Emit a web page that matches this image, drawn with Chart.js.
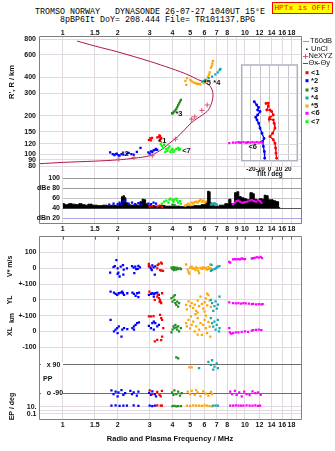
<!DOCTYPE html>
<html>
<head>
<meta charset="utf-8">
<title>Tromso Dynasonde ionogram</title>
<script src="https://cdn.jsdelivr.net/npm/chart.js@4.4.1/dist/chart.umd.min.js"></script>
<style>
  html, body { margin: 0; padding: 0; background: #fff; }
  #page { position: relative; width: 335px; height: 451px; overflow: hidden; background: #fff; }
  canvas { position: absolute; }
  .head { position: absolute; font: 8.33px "Liberation Mono", monospace; line-height: 9px; white-space: pre; color: #000; }
  #hptx { position: absolute; left: 272px; top: 2px; width: 61px; height: 12px; box-sizing: border-box;
          background: #ffff00; border: 1px solid #ff0000; color: #ff0000; text-align: center;
          font: 7.8px "Liberation Mono", monospace; line-height: 10px; white-space: pre; }
</style>
</head>
<body>
<div id="page">
  <div class="head" style="left:35px; top:8px;">TROMSO NORWAY   DYNASONDE 26-07-27 1040UT 15°E</div>
  <div class="head" style="left:60px; top:15.5px;">8pBP6It DoY= 208.444 File= TR101137.BPG</div>
  <div id="hptx">HPTx is OFF!</div>
  <canvas id="insetChart" width="80" height="125" style="left:228px; top:58px; z-index:0"></canvas>
  <canvas id="heightChart" width="335" height="176" style="left:0; top:0; z-index:1"></canvas>
  <canvas id="dbChart" width="335" height="80" style="left:0; top:160px; z-index:2"></canvas>
  <canvas id="lowChart" width="335" height="223" style="left:0; top:228px; z-index:3"></canvas>
</div>
<script>
//Frequency axis (MHz, shared by every panel)
const fGrid = [1, 1.5, 2, 3, 4, 5, 6, 7, 8, 9, 10, 12, 14, 16, 18];
const fLabels = [1, 1.5, 2, 3, 4, 5, 6, 7, 8, 10, 12, 14, 16, 18];
const fLabelsDb = [1, 1.5, 2, 3, 4, 5, 6, 7, 8, 9, 10, 12, 14, 16, 18];

//Height panel (R', R / km)
const hTicks = [80, 90, 100, 120, 150, 200, 300, 400, 600, 800];

const profile = [
    [0.75, 84], [1.0, 86], [1.5, 88], [2.0, 90], [2.5, 93], [3.0, 97], [3.4, 106], [3.7, 116],
    [4.0, 127], [4.25, 136], [4.6, 152], [5.05, 175], [5.45, 190], [5.85, 203], [6.3, 222],
    [6.58, 255], [6.68, 290], [6.6, 320], [6.4, 345], [6.0, 366], [5.5, 385], [5.0, 412],
    [4.42, 443], [3.9, 472], [3.03, 532], [1.99, 636], [1.5, 705], [1.2, 771]
];

const neXYZ = [[2.03, 91], [2.46, 94], [3.1, 97], [4.15, 131], [5.1, 188], [5.3, 196], [5.8, 220], [6.2, 243]];

const c1H = [[2.97, 129], [3.02, 133], [3.09, 134], [3.05, 128], [3.3, 135], [3.37, 136], [3.42, 138], [3.44, 132], [3.41, 128], [3.47, 134], [3.39, 140]];
const c2H = [[1.82, 103], [1.88, 100], [1.92, 98], [1.95, 100], [1.98, 101], [2.02, 98], [2.05, 97], [2.1, 100], [2.15, 99], [2.25, 101], [2.3, 102], [2.38, 100], [2.45, 99], [2.55, 104], [2.67, 112], [2.95, 103], [3.0, 101], [3.05, 105], [3.1, 104], [3.15, 107], [3.2, 108], [3.25, 110], [3.3, 108]];
const c3H = [[3.98, 210], [4.0, 208], [4.05, 212], [4.1, 216], [4.15, 220], [4.2, 226], [4.25, 234], [4.3, 242], [4.35, 250], [4.4, 258], [4.45, 266]];
const c4H = [[5.82, 371], [5.95, 376], [6.06, 382], [6.32, 394], [6.6, 406], [6.88, 423], [7.09, 438], [7.26, 457], [7.33, 466]];
const c5H = [[4.71, 375], [4.76, 349], [4.81, 394], [5.02, 382], [5.1, 372], [5.23, 366], [5.35, 360], [5.46, 355], [5.6, 356], [5.69, 353], [5.94, 360], [6.05, 370], [6.13, 382], [6.27, 406], [6.35, 420], [6.4, 438], [6.5, 477], [6.58, 495], [6.62, 516], [6.67, 538]];
const c6H = [[8.2, 122], [8.6, 123], [8.9, 123], [9.2, 124], [9.35, 123], [9.5, 123], [9.8, 124], [10.1, 123], [10.25, 123], [10.4, 124], [10.7, 123], [11.0, 124], [11.3, 123], [11.6, 124], [11.9, 123], [12.2, 124], [12.5, 123]];
const c7H = [[3.45, 120], [3.5, 116], [3.55, 112], [3.6, 118], [3.65, 104], [3.7, 110], [3.75, 106], [3.8, 112], [3.85, 115], [3.9, 104], [3.95, 108], [4.0, 110], [4.05, 104], [4.1, 107], [4.2, 110], [4.3, 112], [4.35, 108], [4.4, 110]];

const clusterNames = ["<1", "*2", "*3", "*4", "*5", "<6", "<7"];
const clusterColors = ["#ff0000", "#0000ff", "#228b22", "#11aaaa", "#ffa500", "#ff00ff", "#00ff00"];
const tagAt = [[3.33, 126], [2.1, 101], [4.15, 207], [6.7, 362], [5.94, 362], [10.45, 114], [4.52, 105]];

//Tilt inset (deg vs km)
const tiltTicks = [-30, -20, -10, 0, 10, 20, 30];
const thetaX = [[-3.8, 250], [-1.3, 251], [-1.3, 238], [-3.0, 222], [0.5, 222], [2.3, 216], [4.1, 203], [0.5, 195], [-0.2, 188], [4.1, 186], [4.9, 175], [5.9, 160], [3.4, 146], [0.5, 138], [4.1, 130], [5.9, 122], [6.6, 112], [7.0, 102], [7.7, 93]];
const thetaY = [[-16.4, 258], [-13.8, 243], [-11.7, 233], [-12.8, 222], [-10.2, 216], [-12.8, 203], [-14.9, 195], [-13.5, 186], [-11.7, 175], [-10.2, 160], [-8.1, 146], [-5.9, 133], [-7.4, 126], [-6.6, 115], [-5.6, 105], [-5.2, 93]];

//Amplitude panel (dB)
const dbTicks = [100, 80, 60, 40, 20];
const dbTickLabels = ["100", "dBe 80", "60", "40", "dBn 20"];
const t60 = [
    [1.0, 48], [1.05, 46], [1.1, 48], [1.15, 47], [1.2, 46], [1.25, 48], [1.3, 46], [1.35, 45], [1.4, 47], [1.5, 45],
    [1.6, 44], [1.7, 45], [1.8, 44], [1.9, 45], [2.0, 44], [2.08, 48], [2.12, 62], [2.16, 64], [2.2, 60], [2.24, 50],
    [2.3, 46], [2.4, 45], [2.5, 46], [2.6, 45], [2.7, 52], [2.75, 57], [2.82, 56], [2.88, 48], [2.95, 45], [3.1, 44],
    [3.3, 43], [3.5, 44], [3.8, 43], [4.2, 43], [4.6, 42], [5.0, 43], [5.5, 44], [6.0, 46], [6.2, 52], [6.28, 73],
    [6.4, 72], [6.48, 50], [6.6, 44], [7.0, 43], [7.5, 45], [8.0, 48], [8.3, 57], [8.45, 48], [8.6, 46], [8.95, 70],
    [9.1, 72], [9.4, 62], [9.7, 60], [10.0, 58], [10.4, 56], [10.9, 70], [11.1, 68], [11.4, 57], [11.8, 56], [12.2, 58],
    [12.6, 57], [12.9, 65], [13.2, 64], [13.6, 56], [14.0, 56], [14.5, 54], [15.0, 52], [15.6, 40]
];
const c1Db = [[3.0, 42], [3.1, 43], [3.3, 42], [3.4, 44], [3.5, 41]];
const c2Db = [[1.8, 46], [1.9, 48], [2.0, 47], [2.05, 50], [2.1, 46], [2.15, 52], [2.2, 54], [2.3, 48], [2.4, 50], [2.5, 47], [2.6, 49], [2.7, 46], [2.95, 48], [3.05, 47], [3.15, 50], [3.25, 48]];
const c3Db = [[4.0, 46], [4.1, 45]];
const c4Db = [[6.5, 46], [6.6, 48], [6.7, 47], [6.8, 49], [6.9, 47], [7.0, 46]];
const c5Db = [[4.7, 44], [4.8, 46], [4.9, 48], [5.0, 45], [5.1, 50], [5.2, 48], [5.3, 51], [5.4, 52], [5.5, 50], [5.6, 53], [5.7, 56], [5.8, 52], [5.9, 54], [6.0, 50], [6.1, 52]];
const c6Db = [[8.6, 47], [8.8, 50], [9.0, 53], [9.2, 54], [9.4, 52], [9.6, 50], [9.8, 50], [10.0, 51], [10.3, 52], [10.6, 54], [10.9, 55], [11.2, 53], [11.5, 52], [11.8, 55], [12.1, 53], [12.3, 50]];
const c7Db = [[3.5, 48], [3.6, 52], [3.7, 54], [3.8, 50], [3.85, 56], [3.9, 58], [4.0, 55], [4.05, 52], [4.1, 56], [4.2, 58], [4.25, 54], [4.3, 50], [4.4, 53], [4.45, 48]];

//Lower panel: V* (m/s), YL / XL (km), PP (deg), EP (deg)
const c1V = [[2.97, 28], [2.99, 12], [3.3, 0], [3.32, 20], [3.36, 28], [3.42, -12], [3.46, 36], [3.5, 30], [3.47, -14], [3.55, -16]];
const c1YL = [[2.99, 53], [3.2, 0], [3.3, 21], [3.33, 32], [3.37, 11], [3.42, 0], [3.4, -11], [3.45, -14], [3.47, -21], [3.51, 42]];
const c1XL = [[2.97, 95], [3.05, 95], [3.15, 97], [3.42, 105], [3.47, 84], [3.51, 74], [3.56, 21], [3.51, -32], [3.3, -53], [3.47, -55], [3.2, -63]];
const c1PP = [[3.0, -72], [3.1, -95], [3.3, -82], [3.4, -100], [3.5, -75], [3.45, -110]];
const c1EP = [[3.3, 22], [3.45, 18], [3.5, 20]];

const c2V = [[1.82, -28], [1.9, 8], [1.93, 14], [1.97, 52], [2.0, 0], [2.02, -28], [2.0, -36], [2.05, -52], [2.08, 10], [2.14, 20], [2.16, -8], [2.15, -40], [2.25, 0], [2.4, 14], [2.45, 4], [2.5, 10], [2.53, -6], [2.47, -30], [2.6, 16], [2.58, -4], [2.65, 6], [2.97, 16], [3.0, 8], [3.05, 0], [3.1, 18], [3.15, 6], [3.2, -40], [3.08, -12], [3.22, 12]];
const c2YL = [[1.83, 53], [1.91, 46], [1.95, 38], [1.99, 32], [2.03, 42], [2.08, 46], [2.12, 53], [2.14, 42], [2.17, 32], [2.26, 42], [2.41, 46], [2.46, 38], [2.51, 25], [2.56, 42], [2.62, 46], [2.6, 17], [2.97, 32], [3.05, 38], [3.1, 42], [3.16, 38], [3.22, 42], [3.3, 46], [3.16, 21], [3.37, 32]];
const c2XL = [[1.83, 74], [1.91, 0], [1.95, 11], [1.99, 21], [2.03, 32], [2.0, -11], [2.12, 11], [2.1, -32], [2.17, 21], [2.26, 15], [2.41, 21], [2.46, 32], [2.51, 42], [2.56, 53], [2.62, 58], [2.46, 11], [2.97, 36], [3.05, 21], [3.1, 53], [3.16, 63], [3.22, 53], [3.3, 32], [3.16, 11], [3.37, 42]];
const c2PP = [[1.85, -72], [1.9, -95], [1.95, -80], [2.0, -110], [2.02, -85], [2.1, -70], [2.15, -100], [2.2, -90], [2.35, -75], [2.4, -95], [2.45, -85], [2.55, -105], [2.6, -80], [2.98, -88], [3.05, -100], [3.1, -78], [3.2, -95], [3.25, -110]];
const c2EP = [[1.85, 18], [1.95, 22], [2.05, 16], [2.15, 20], [2.25, 18], [2.45, 22], [2.6, 16], [3.0, 20], [3.1, 14], [3.2, 18]];

const c3V = [[3.95, 4], [4.0, -6], [4.05, 8], [4.08, -12], [4.1, -2], [4.15, 4], [4.2, -8], [4.25, 2], [4.3, -4], [4.4, 0], [4.45, -6]];
const c3YL = [[3.95, 11], [4.0, -11], [4.05, 21], [4.1, 0], [4.12, 30], [4.15, -21], [4.2, -32], [4.25, -11], [4.3, -42], [4.35, -21]];
const c3XL = [[3.95, -5], [4.0, 11], [4.05, 32], [4.1, 21], [4.15, 42], [4.2, 26], [4.25, 11], [4.3, 32], [4.35, 0], [4.45, 21]];
const c3PP = [[3.98, -85], [4.05, -100], [4.1, -72], [4.2, -95], [4.3, -80], [4.4, -105], [4.5, -90], [4.2, 138], [4.3, 132]];
const c3EP = [[4.0, 14], [4.1, 16], [4.2, 12], [4.3, 15], [4.45, 14]];

const c4V = [[6.5, -16], [6.55, 22], [6.6, -10], [6.8, -6], [6.9, -2], [7.0, 6], [7.1, 10], [7.25, 14]];
const c4YL = [[6.5, 0], [6.6, -20], [6.7, -70], [6.8, -40], [6.9, -10], [7.0, -55], [7.1, -30], [7.25, 20]];
const c4XL = [[6.5, 84], [6.6, 53], [6.7, 30], [6.8, 63], [6.9, 11], [7.0, 42], [7.1, 74], [7.2, 0], [7.25, 21]];
const c4PP = [[5.6, 70], [6.3, 110], [6.5, 90], [6.6, 120], [6.7, 60], [6.8, 80], [7.0, 100], [7.1, 70]];
const c4EP = [[6.7, 20], [6.9, 18], [7.1, 20]];

const c5V = [[4.75, 24], [4.85, -8], [4.9, -22], [4.95, -34], [5.0, 4], [5.1, 10], [5.15, -2], [5.25, 0], [5.35, -12], [5.4, 6], [5.5, 0], [5.55, -16], [5.6, -30], [5.7, 2], [5.8, -4], [5.9, 6], [6.0, -2], [6.1, 2], [6.2, -8], [6.3, 8], [6.35, -4], [6.45, 24], [6.5, 0]];
const c5YL = [[4.75, -32], [4.8, -60], [4.9, -10], [5.0, -40], [5.1, -20], [5.2, -50], [5.3, -30], [5.4, -70], [5.5, -5], [5.5, -80], [5.6, -40], [5.7, 20], [5.8, -25], [5.9, -55], [6.0, -15], [6.0, -75], [6.1, 10], [6.2, -35], [6.2, 40], [6.3, 30], [6.4, -5], [6.5, -45]];
const c5XL = [[4.75, 53], [4.8, 32], [4.9, 74], [5.0, 20], [5.05, 95], [5.1, 42], [5.2, 63], [5.3, 0], [5.35, 110], [5.4, 32], [5.5, 84], [5.5, -20], [5.6, 11], [5.7, 53], [5.8, -21], [5.9, 42], [6.0, 74], [6.1, 21], [6.1, 100], [6.2, -10], [6.3, 60], [6.4, 30], [6.45, -32]];
const c5PP = [[4.85, -80], [5.0, -95], [5.1, -75], [5.3, -100], [5.4, -70], [5.5, -85], [5.7, -110], [5.9, -78], [6.1, -92], [6.3, -105], [6.5, -82], [6.6, -95], [4.95, 75], [5.1, 75]];
const c5EP = [[4.8, 20], [5.0, 16], [5.2, 22], [5.4, 18], [5.6, 20], [5.8, 16], [6.0, 22], [6.2, 18], [6.4, 14], [6.6, 12]];

const c6V = [[8.2, 40], [8.3, 36], [8.6, 56], [8.8, 58], [9.0, 56], [9.2, 58], [9.4, 56], [9.6, 62], [9.8, 60], [10.0, 58], [10.9, 62], [11.1, 64], [11.3, 66], [11.6, 70], [11.9, 68], [12.2, 72], [12.4, 64]];
const c6YL = [[8.2, -16], [8.6, -21], [8.9, -22], [9.2, -21], [9.5, -23], [9.8, -21], [10.1, -22], [10.5, -24], [10.9, -27], [11.1, -26], [11.5, -28], [11.9, -27], [12.3, -29], [12.5, -27]];
const c6XL = [[8.2, 21], [8.25, -6], [8.4, -14], [8.6, -10], [8.9, -5], [9.2, -5], [9.6, -2], [10.0, 0], [10.4, -3], [10.9, 6], [11.1, 8], [11.5, 10], [11.9, 12], [12.3, 8]];
const c6PP = [[8.3, -80], [8.5, -95], [8.8, -75], [9.0, -100], [9.3, -85], [9.6, -110], [9.9, -80], [10.2, -95], [10.6, -102], [11.0, -78], [11.4, -90], [11.8, -85], [12.2, -100]];
const c6EP = [[8.3, 20], [8.6, 18], [8.9, 22], [9.2, 20], [9.5, 18], [9.8, 20], [10.2, 22], [10.6, 18], [11.0, 20], [11.4, 22], [11.8, 16], [12.1, 20]];

//Layout of the lower panel bands (one shared value axis, 0 = V* zero line)
const YL_ZERO = -200, XL_ZERO = -400, PP_MID = -701.5, PP_SCALE = 179 / 180, EP_TEN = -876, EP_DECADE = 23;
const ppY = d => PP_MID + d * PP_SCALE;
const epY = e => EP_TEN + (Math.log10(e) - 1) * EP_DECADE;
const lowTickValues = [100, 0, -100, YL_ZERO, YL_ZERO - 100, XL_ZERO, XL_ZERO - 100, epY(10), epY(0.1)];
const lowTickLabels = ["100", "0", "+-100", "0", "+-100", "0", "-100", "10.", "0.1"];

//Styles
const GRID = "#e2d8e2";
const FRAME = "#808080";
const TICK_FONT = { family: "Liberation Sans", size: 7, weight: "bold" };
const F_MIN = 0.75, F_MAX = 20.3;
const H_MIN = 78, H_MAX = 830;
const INSET = { left: 241.7, top: 65, right: 297.3, bottom: 160.7 };
const hAt = p => Math.pow(10, Math.log10(H_MAX) - (p - 37) / 131 * Math.log10(H_MAX / H_MIN));

Chart.defaults.font.family = "Liberation Sans";
Chart.defaults.animation = false;

const pts = arr => arr.map(([x, y]) => ({ x, y }));

function dotSet(arr, color) {
    return { data: pts(arr), pointStyle: "rect", pointRadius: 1.6, borderWidth: 0, backgroundColor: color, borderColor: color };
}

function freqAxis(position, labels, boxHeight, pad) {
    return {
        type: "logarithmic", position, min: F_MIN, max: F_MAX,
        afterBuildTicks: s => { s.ticks = fGrid.map(v => ({ value: v })); },
        afterFit: s => { s.height = boxHeight; },
        ticks: { autoSkip: false, maxRotation: 0, padding: pad, font: TICK_FONT, color: "#111",
            callback: v => labels.includes(v) ? String(v) : "" },
        grid: { color: GRID, drawTicks: false },
        border: { display: false }
    };
}

function frameLines(ctx, a, sides) {
    const l = Math.round(a.left) - 0.5, r = Math.round(a.right) + 0.5;
    const t = Math.round(a.top) - 0.5, b = Math.round(a.bottom) + 0.5;
    ctx.save();
    ctx.strokeStyle = FRAME;
    ctx.lineWidth = 1;
    ctx.beginPath();
    if (sides.includes("l")) { ctx.moveTo(l, t); ctx.lineTo(l, b); }
    if (sides.includes("r")) { ctx.moveTo(r, t); ctx.lineTo(r, b); }
    if (sides.includes("t")) { ctx.moveTo(l, t); ctx.lineTo(r, t); }
    if (sides.includes("b")) { ctx.moveTo(l, b); ctx.lineTo(r, b); }
    ctx.stroke();
    ctx.restore();
}

function label(ctx, s, x, y, font, align, rot) {
    ctx.save();
    ctx.font = font;
    ctx.fillStyle = "#111";
    ctx.textAlign = align || "left";
    ctx.textBaseline = "middle";
    ctx.translate(x, y);
    if (rot) ctx.rotate(rot);
    ctx.fillText(s, 0, 0);
    ctx.restore();
}

const commonOpts = {
    responsive: false, animation: false, devicePixelRatio: 1,
    plugins: { legend: { display: false }, tooltip: { enabled: false } }
};

//Height panel
const heightDecor = {
    id: "heightDecor",
    beforeDatasetsDraw(chart) {
        chart.ctx.clearRect(INSET.left - 1.5, INSET.top - 1.5, INSET.right - INSET.left + 3, INSET.bottom - INSET.top + 3);
    },
    afterDraw(chart) {
        const { ctx, chartArea, scales } = chart;
        frameLines(ctx, chartArea, "ltr");
        label(ctx, "R', R / km", 12, 82, "bold 7.5px 'Liberation Sans'", "center", -Math.PI / 2);

        //Cluster tags
        clusterNames.forEach((name, i) => {
            label(ctx, name, scales.x.getPixelForValue(tagAt[i][0]), scales.y.getPixelForValue(tagAt[i][1]), "bold 7.5px 'Liberation Sans'");
        });

        //Legend
        const f = "7.5px 'Liberation Sans'";
        ctx.save();
        ctx.lineWidth = 1;
        ctx.strokeStyle = "#999";
        ctx.beginPath(); ctx.moveTo(303, 41.5); ctx.lineTo(309, 41.5); ctx.stroke();
        ctx.fillStyle = "#111";
        ctx.fillRect(306, 48.5, 1.5, 1.5);
        ctx.strokeStyle = "#e0507a";
        ctx.beginPath(); ctx.moveTo(303, 56.5); ctx.lineTo(308, 56.5); ctx.moveTo(305.5, 54); ctx.lineTo(305.5, 59); ctx.stroke();
        ctx.strokeStyle = "#c01850";
        ctx.beginPath(); ctx.moveTo(303, 63.5); ctx.lineTo(308, 63.5); ctx.stroke();
        ctx.strokeStyle = "#6060ff";
        ctx.beginPath(); ctx.moveTo(316, 63.5); ctx.lineTo(320, 63.5); ctx.stroke();
        ctx.restore();
        label(ctx, "T60dB", 310, 41, f);
        label(ctx, "UnCl", 311, 49, f);
        label(ctx, "NeXYZ", 308.5, 56, f);
        label(ctx, "Θx", 308.5, 63, f);
        label(ctx, "Θy", 320.5, 63, f);
        const rows = [72.7, 80.7, 90, 98, 106, 113.3, 121.7];
        clusterNames.forEach((name, i) => {
            ctx.fillStyle = clusterColors[i];
            ctx.fillRect(305.5, rows[i] - 1.5, 3, 3);
            label(ctx, name, 311, rows[i], "bold 7.5px 'Liberation Sans'");
        });
    }
};

new Chart(document.getElementById("heightChart"), {
    type: "scatter",
    data: {
        datasets: [
            dotSet(c1H, clusterColors[0]), dotSet(c2H, clusterColors[1]), dotSet(c3H, clusterColors[2]),
            dotSet(c4H, clusterColors[3]), dotSet(c5H, clusterColors[4]), dotSet(c6H, clusterColors[5]),
            dotSet(c7H, clusterColors[6]),
            { data: pts(neXYZ), pointStyle: "cross", pointRadius: 2.5, borderWidth: 1, borderColor: "#e0507a", backgroundColor: "#e0507a" },
            { data: pts(profile), showLine: true, borderColor: "#b3164b", borderWidth: 1, pointRadius: 0, tension: 0.3 }
        ]
    },
    options: {
        ...commonOpts,
        layout: { padding: { top: 0, right: 34, bottom: 8, left: 0 } },
        scales: {
            x: freqAxis("top", fLabels, 37, 0),
            y: {
                type: "logarithmic", min: H_MIN, max: H_MAX,
                afterBuildTicks: s => { s.ticks = hTicks.map(v => ({ value: v })); },
                afterFit: s => { s.width = 40; },
                ticks: { font: TICK_FONT, color: "#111", padding: 4, callback: v => String(v) },
                grid: { color: GRID, drawTicks: false },
                border: { display: false }
            }
        }
    },
    plugins: [heightDecor]
});

//Tilt inset
const insetTop = hAt(INSET.top), insetBottom = hAt(INSET.bottom);
new Chart(document.getElementById("insetChart"), {
    type: "scatter",
    data: {
        datasets: [
            { data: pts(thetaY), showLine: true, borderColor: "#0000ff", backgroundColor: "#0000ff", borderWidth: 1.3, pointRadius: 0.8 },
            { data: pts(thetaX), showLine: true, borderColor: "#ff0000", backgroundColor: "#ff0000", borderWidth: 1.3, pointRadius: 0.8 }
        ]
    },
    options: {
        ...commonOpts,
        layout: { padding: { top: 7, right: 10.7, bottom: 0, left: 0 } },
        scales: {
            x: {
                type: "linear", min: -30, max: 30,
                afterBuildTicks: s => { s.ticks = tiltTicks.map(v => ({ value: v })); },
                afterFit: s => { s.height = 22.3; },
                ticks: { autoSkip: false, maxRotation: 0, padding: 5, color: "#111",
                    font: { family: "Liberation Sans", size: 6.5, weight: "bold" },
                    callback: v => Math.abs(v) <= 20 ? String(v) : "" },
                grid: { color: "#c4c4cc", drawTicks: false },
                border: { display: false }
            },
            y: {
                type: "logarithmic", min: insetBottom, max: insetTop,
                afterBuildTicks: s => { s.ticks = hTicks.filter(v => v > insetBottom && v < insetTop).map(v => ({ value: v })); },
                afterFit: s => { s.width = 13.7; },
                ticks: { display: false },
                grid: { color: GRID, drawTicks: false },
                border: { display: false }
            }
        }
    },
    plugins: [{
        id: "insetDecor",
        beforeDraw(chart) {
            const a = chart.chartArea;
            chart.ctx.fillStyle = "#fff";
            chart.ctx.fillRect(a.left, a.top, a.right - a.left, a.bottom - a.top);
        },
        afterDraw(chart) {
            const { ctx, chartArea: a } = chart;
            ctx.save();
            ctx.strokeStyle = "#b0b0c4";
            ctx.lineWidth = 1.5;
            ctx.strokeRect(a.left, a.top, a.right - a.left, a.bottom - a.top);
            ctx.restore();
            label(ctx, "Tilt / deg", (a.left + a.right) / 2, a.bottom + 13.5, "bold 6.5px 'Liberation Sans'", "center");
        }
    }]
});

//Amplitude panel
const dbLineColors = ["#9a9a9a", "#9a9a9a", "#c4c4c4", "#555555", "#a8a8e6"];
new Chart(document.getElementById("dbChart"), {
    type: "scatter",
    data: {
        datasets: [
            dotSet(c1Db, clusterColors[0]), dotSet(c2Db, clusterColors[1]), dotSet(c3Db, clusterColors[2]),
            dotSet(c4Db, clusterColors[3]), dotSet(c5Db, clusterColors[4]), dotSet(c6Db, clusterColors[5]),
            dotSet(c7Db, clusterColors[6]),
            { type: "line", data: pts(t60), stepped: "middle", fill: { value: 39 }, borderColor: "#000", backgroundColor: "#000", borderWidth: 1, pointRadius: 0 }
        ]
    },
    options: {
        ...commonOpts,
        layout: { padding: { top: 8, right: 34, bottom: 0, left: 0 } },
        scales: {
            x: freqAxis("bottom", fLabelsDb, 17.3, 2),
            y: {
                type: "linear", min: 10, max: 119.4,
                afterFit: s => { s.width = 40; },
                ticks: { display: false },
                grid: { display: false },
                border: { display: false }
            }
        }
    },
    plugins: [{
        id: "dbDecor",
        beforeDatasetsDraw(chart) {
            const { ctx, scales } = chart;
            ctx.clearRect(INSET.left, 8, INSET.right - INSET.left + 2, 9);
            const x0 = scales.x.getPixelForValue(1), x1 = chart.chartArea.right;
            ctx.save();
            ctx.lineWidth = 1;
            dbTicks.forEach((v, i) => {
                const y = Math.round(scales.y.getPixelForValue(v)) + 0.5;
                ctx.strokeStyle = dbLineColors[i];
                ctx.beginPath(); ctx.moveTo(x0, y); ctx.lineTo(x1, y); ctx.stroke();
            });
            ctx.restore();
        },
        afterDraw(chart) {
            const { ctx, scales } = chart;
            frameLines(ctx, chart.chartArea, "lbr");
            dbTicks.forEach((v, i) => label(ctx, dbTickLabels[i], 60, scales.y.getPixelForValue(v), "bold 7px 'Liberation Sans'", "right"));
        }
    }]
});

//Lower panel
const bandV = ([f, v]) => ({ x: f, y: v });
const bandYL = ([f, v]) => ({ x: f, y: YL_ZERO + v });
const bandXL = ([f, v]) => ({ x: f, y: XL_ZERO + v });
const bandPP = ([f, d]) => ({ x: f, y: ppY(d) });
const bandEP = ([f, e]) => ({ x: f, y: epY(e) });

function lowSet(color, v, yl, xl, pp, ep) {
    return {
        data: [...v.map(bandV), ...yl.map(bandYL), ...xl.map(bandXL), ...pp.map(bandPP), ...ep.map(bandEP)],
        pointStyle: "rect", pointRadius: 1.6, borderWidth: 0, backgroundColor: color, borderColor: color
    };
}

const ppLines = [ppY(90), ppY(-90)];
const lowGrid = [...lowTickValues, ...ppLines, epY(1)].sort((a, b) => b - a);

new Chart(document.getElementById("lowChart"), {
    type: "scatter",
    data: {
        datasets: [
            lowSet(clusterColors[0], c1V, c1YL, c1XL, c1PP, c1EP),
            lowSet(clusterColors[1], c2V, c2YL, c2XL, c2PP, c2EP),
            lowSet(clusterColors[2], c3V, c3YL, c3XL, c3PP, c3EP),
            lowSet(clusterColors[3], c4V, c4YL, c4XL, c4PP, c4EP),
            lowSet(clusterColors[4], c5V, c5YL, c5XL, c5PP, c5EP),
            lowSet(clusterColors[5], c6V, c6YL, c6XL, c6PP, c6EP)
        ]
    },
    options: {
        ...commonOpts,
        layout: { padding: { top: 8.7, right: 34, bottom: 0, left: 0 } },
        scales: {
            x: freqAxis("bottom", fLabels, 31.7, 2),
            y: {
                type: "linear", min: -956, max: 200,
                afterBuildTicks: s => { s.ticks = lowGrid.map(v => ({ value: v })); },
                afterFit: s => { s.width = 40; },
                ticks: { autoSkip: false, font: TICK_FONT, color: "#111", padding: 3.5,
                    callback: v => {
                        const i = lowTickValues.findIndex(t => Math.abs(t - v) < 0.01);
                        return i >= 0 ? lowTickLabels[i] : "";
                    } },
                grid: {
                    drawTicks: false,
                    color: c => ppLines.some(p => Math.abs(p - c.tick.value) < 0.01) ? "#6e6e6e" : GRID
                },
                border: { display: false }
            }
        }
    },
    plugins: [{
        id: "lowDecor",
        afterDraw(chart) {
            const { ctx, chartArea: a, scales } = chart;
            frameLines(ctx, a, "ltrb");

            //Short ticks along the top edge
            ctx.save();
            ctx.strokeStyle = "#666";
            ctx.beginPath();
            fGrid.forEach(v => {
                const x = Math.round(scales.x.getPixelForValue(v)) + 0.5;
                ctx.moveTo(x, a.top); ctx.lineTo(x, a.top + 3);
            });
            ctx.stroke();
            ctx.restore();

            //Polarisation labels inside the plot
            const bf = "bold 7px 'Liberation Sans'";
            [["x 90", ppY(90)], ["o -90", ppY(-90)]].forEach(([s, v]) => {
                const y = scales.y.getPixelForValue(v);
                ctx.fillStyle = "#fff";
                ctx.fillRect(a.left + 1, y - 3, 22, 6);
                label(ctx, s, 46.7, y, bf);
            });
            label(ctx, "PP", 43, scales.y.getPixelForValue(ppY(0)), bf);

            //Band titles
            const tf = "bold 7px 'Liberation Sans'";
            label(ctx, "V* m/s", 10, scales.y.getPixelForValue(0) - 2, tf, "center", -Math.PI / 2);
            label(ctx, "YL", 10, scales.y.getPixelForValue(YL_ZERO), tf, "center", -Math.PI / 2);
            label(ctx, "km", 12, scales.y.getPixelForValue(YL_ZERO - 115), tf, "center", -Math.PI / 2);
            label(ctx, "XL", 10, scales.y.getPixelForValue(XL_ZERO), tf, "center", -Math.PI / 2);
            label(ctx, "EP / deg", 12, scales.y.getPixelForValue(epY(3)) - 2, tf, "center", -Math.PI / 2);

            label(ctx, "Radio and Plasma Frequency / MHz", 170, 211, "bold 7.5px 'Liberation Sans'", "center");
        }
    }]
});
</script>
</body>
</html>
